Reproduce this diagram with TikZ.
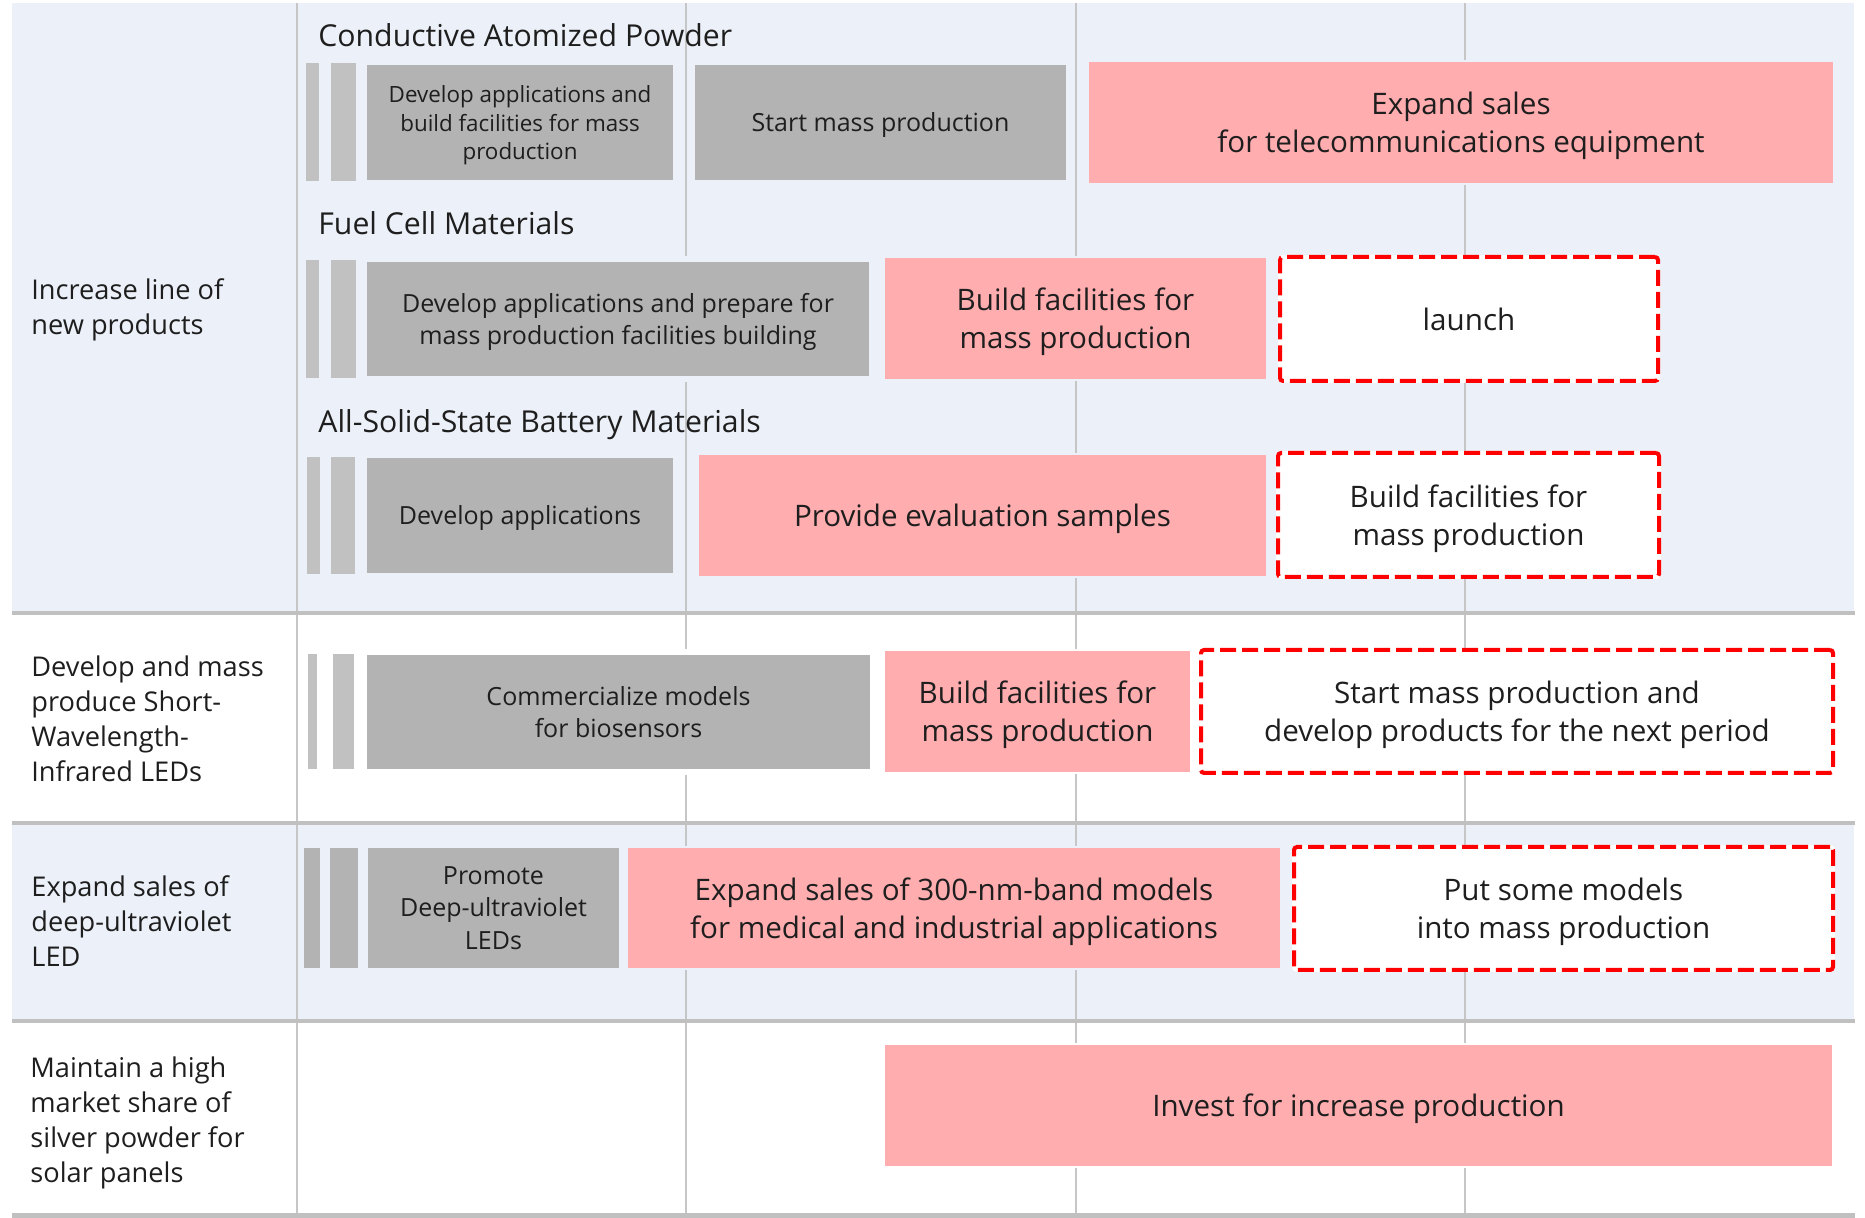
\documentclass[tikz,border=0pt]{standalone}
\usepackage{fontspec}
\setmainfont{Open Sans}
\definecolor{rowblue}{HTML}{ECF0F8}
\definecolor{boxgray}{HTML}{B3B3B3}
\definecolor{barlight}{HTML}{C1C1C1}
\definecolor{pinkfill}{HTML}{FFADAF}
\definecolor{gridc}{HTML}{C6C6C6}
\definecolor{sepc}{HTML}{C0C0C0}
\definecolor{txt}{HTML}{1E1E1E}
\newcommand\fL{\fontsize{13.6}{17.5}\selectfont}
\newcommand\fT{\fontsize{15.1}{18}\selectfont}
\newcommand\fG{\fontsize{12.5}{16.3}\selectfont}
\newcommand\fGs{\fontsize{11.2}{14.4}\selectfont}
\newcommand\fP{\fontsize{14.8}{19}\selectfont}
% style, name, x1, y1, x2, y2, text   (pixel coordinates)
\newcommand\bx[7]{\node[#1, minimum width={(#5-#3)*0.5pt}, minimum height={(#6-#4)*0.5pt}] (#2) at ({(#3+#5)/2},{(#4+#6)/2}) {#7};}
\tikzset{
  basebox/.style={inner sep=0pt, outer sep=0pt, align=center, text=txt, text depth=0pt},
  graybox/.style={basebox, fill=boxgray, preaction={draw=#1, line width=6pt, solid}, font=\fG},
  bar/.style={basebox, fill=#1},
  pinkbox/.style={basebox, fill=pinkfill, preaction={draw=#1, line width=2pt, solid}, font=\fP},
  dashbox/.style={basebox, fill=white, draw=red, line width=2pt, dash pattern=on 8pt off 3pt, rounded corners=1.5pt, preaction={draw=white, line width=2pt, solid}, font=\fP},
  gridline/.style={draw=gridc, line width=1pt},
  sepline/.style={draw=sepc, line width=2pt},
  lefttext/.style={anchor=base west, align=left, inner sep=0pt, text=txt, font=\fL},
  titletext/.style={anchor=base west, inner sep=0pt, text=txt, font=\fT}
}
\begin{document}
\begin{tikzpicture}[x=0.5pt, y=-0.5pt]
\useasboundingbox (0,0) rectangle (1865,1218);
% row backgrounds
\fill[rowblue] (12,3) rectangle (1854,613);
\fill[rowblue] (12,823) rectangle (1854,1021);
% vertical grid lines
\draw[gridline] (297,3) -- (297,1213);
\draw[gridline] (686,3) -- (686,1213);
\draw[gridline] (1076,3) -- (1076,1213);
\draw[gridline] (1465,3) -- (1465,1213);
% separators
\draw[sepline] (12,613) -- (1855,613);
\draw[sepline] (12,823) -- (1855,823);
\draw[sepline] (12,1021) -- (1855,1021);
\draw[sepc, line width=2.5pt] (12,1215.5) -- (1855,1215.5);
% left column (anchor = baseline of the last line)
\node[lefttext] (l1) at (31,335) {Increase line of\\new products};
\node[lefttext] (l2) at (31,782) {Develop and mass\\produce Short-\\Wavelength-\\Infrared LEDs};
\node[lefttext] (l3) at (31,967) {Expand sales of\\deep-ultraviolet\\LED};
\node[lefttext] (l4) at (30,1182) {Maintain a high\\market share of\\silver powder for\\solar panels};
% titles
\node[titletext] (t1) at (318,47) {Conductive Atomized Powder};
\node[titletext] (t2) at (318,235) {Fuel Cell Materials};
\node[titletext] (t3) at (318,433) {All-Solid-State Battery Materials};
% Conductive Atomized Powder
\bx{bar=barlight}{a0}{306}{63}{319}{181}{}
\bx{bar=barlight}{a00}{331}{63}{356}{181}{}
\bx{graybox=rowblue, font=\fGs}{a1}{367}{65}{673}{180}{Develop applications and\\build facilities for mass\\production}
\bx{graybox=rowblue}{a2}{695}{65}{1066}{180}{Start mass production}
\bx{pinkbox=rowblue}{a3}{1089}{62}{1833}{183}{Expand sales\\for telecommunications equipment}
% Fuel Cell Materials
\bx{bar=barlight}{b0}{306}{260}{319}{378}{}
\bx{bar=barlight}{b00}{331}{260}{356}{378}{}
\bx{graybox=rowblue}{b1}{367}{262}{869}{376}{Develop applications and prepare for\\mass production facilities building}
\bx{pinkbox=rowblue}{b2}{885}{258}{1266}{379}{Build facilities for\\mass production}
\bx{dashbox}{b3}{1280}{257}{1658}{381}{launch}
% All-Solid-State Battery Materials
\bx{bar=barlight}{c0}{307}{457}{320}{574}{}
\bx{bar=barlight}{c00}{331}{457}{355}{574}{}
\bx{graybox=rowblue}{c1}{367}{458}{673}{573}{Develop applications}
\bx{pinkbox=rowblue}{c2}{699}{455}{1266}{576}{Provide evaluation samples}
\bx{dashbox}{c3}{1278}{453}{1659}{577}{Build facilities for\\mass production}
% Short-Wavelength-Infrared LEDs
\bx{bar=barlight}{d0}{308}{654}{317}{769}{}
\bx{bar=barlight}{d00}{333}{654}{354}{769}{}
\bx{graybox=white}{d1}{367}{655}{870}{769}{Commercialize models\\for biosensors}
\bx{pinkbox=white}{d2}{885}{651}{1190}{772}{Build facilities for\\mass production}
\bx{dashbox}{d3}{1201}{650}{1833}{773}{Start mass production and\\develop products for the next period}
% Deep-ultraviolet LED
\bx{bar=boxgray}{e0}{304}{848}{320}{968}{}
\bx{bar=boxgray}{e00}{330}{848}{358}{968}{}
\bx{graybox=rowblue}{e1}{368}{848}{619}{968}{Promote\\Deep-ultraviolet\\LEDs}
\bx{pinkbox=rowblue}{e2}{628}{848}{1280}{968}{Expand sales of 300-nm-band models\\for medical and industrial applications}
\bx{dashbox}{e3}{1294}{847}{1833}{970}{Put some models\\into mass production}
% Silver powder
\bx{pinkbox=white}{f1}{885}{1045}{1832}{1166}{Invest for increase production}
\end{tikzpicture}
\end{document}
